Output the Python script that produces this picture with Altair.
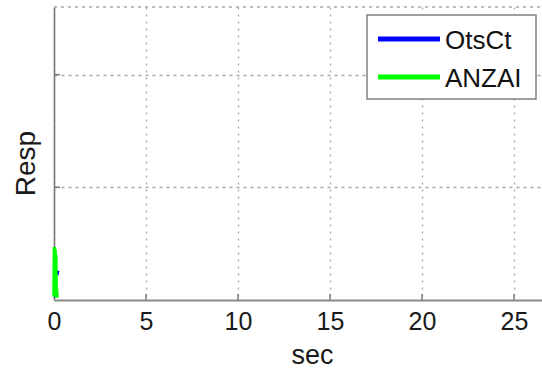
import altair as alt
import pandas as pd

# ---- data ----
series_names = ["OtsCt", "ANZAI"]
series_colors = ["#0000ff", "#00ff00"]

otsct_t = [0.0, 0.05, 0.12, 0.18, 0.23]
otsct_v = [0.02, 0.15, 0.27, 0.22, 0.26]

anzai_t = [0.0, 0.02, 0.04, 0.06, 0.08, 0.10, 0.12, 0.14, 0.16]
anzai_v = [0.03, 0.47, 0.04, 0.45, 0.06, 0.40, 0.05, 0.10, 0.02]

x_ticks = [0, 5, 10, 15, 20, 25]
y_ticks = [1, 2]
x_max = 26.52
y_max = 2.6

# ---- layout (pixels) ----
W, H = 488, 293
FONT = "Liberation Sans"
LEG_BOX = (313, 8, 482, 92)       # x0, y0, x1, y1 relative to plot area
LEG_SYM_X = (324, 386)
LEG_LABEL_X = 391
LEG_ROW_Y = [32, 70]

df_o = pd.DataFrame({"t": otsct_t, "v": otsct_v, "s": series_names[0]})
df_a = pd.DataFrame({"t": anzai_t, "v": anzai_v, "s": series_names[1]})

xs = alt.Scale(domain=[0, x_max], nice=False, zero=False)
ys = alt.Scale(domain=[0, y_max], nice=False, zero=False)
cs = alt.Scale(domain=series_names, range=series_colors)

x_axis = alt.Axis(
    values=x_ticks, title="sec", grid=True, gridColor="#a8a8a8",
    gridDash=[2, 5], gridWidth=1.3, ticks=False, domain=True,
    domainColor="#8a8a8a", domainWidth=2, labelFont=FONT, labelFontSize=25,
    labelColor="#1a1a1a", labelPadding=9, labelFlush=False,
    titleFont=FONT, titleFontSize=27, titleFontWeight="normal",
    titleColor="#1a1a1a", titleX=258, titleY=63, titleBaseline="alphabetic",
    titleAlign="center", titleAnchor="start",
)
y_axis = alt.Axis(
    values=y_ticks, title="Resp", grid=True, gridColor="#a8a8a8",
    gridDash=[3, 4], gridWidth=1.3, ticks=False, labels=False, domain=True,
    domainColor="#7a7a7a", domainWidth=1.6,
    titleFont=FONT, titleFontSize=28, titleFontWeight="normal",
    titleColor="#1a1a1a", titleAngle=270, titleX=-20, titleY=156,
    titleBaseline="alphabetic", titleAlign="center", titleAnchor="start",
)

line_o = alt.Chart(df_o).mark_line(strokeWidth=2.5, clip=True).encode(
    x=alt.X("t:Q", scale=xs, axis=x_axis),
    y=alt.Y("v:Q", scale=ys, axis=y_axis),
    color=alt.Color("s:N", scale=cs, legend=None),
)
line_a = alt.Chart(df_a).mark_line(strokeWidth=3.5, clip=False).encode(
    x=alt.X("t:Q", scale=xs),
    y=alt.Y("v:Q", scale=ys),
    color=alt.Color("s:N", scale=cs, legend=None),
)

# inward ticks (MATLAB style) and dotted top edge
xt_df = pd.DataFrame({"t": x_ticks[1:]})
yt_df = pd.DataFrame({"v": y_ticks})
xticks = alt.Chart(xt_df).mark_rule(color="#7a7a7a", strokeWidth=1.5).encode(
    x=alt.X("t:Q", scale=xs), y=alt.value(H), y2=alt.value(H - 6)
)
yticks = alt.Chart(yt_df).mark_rule(color="#7a7a7a", strokeWidth=1.5).encode(
    y=alt.Y("v:Q", scale=ys), x=alt.value(0), x2=alt.value(6)
)
one = pd.DataFrame({"a": [0]})
top_edge = alt.Chart(one).mark_rule(
    color="#a8a8a8", strokeDash=[3, 4], strokeWidth=1.3
).encode(x=alt.value(0), x2=alt.value(W), y=alt.value(0))

# legend box (MATLAB style)
leg_layers = [
    alt.Chart(one).mark_rect(fill="#ffffff", stroke="#808080", strokeWidth=1.5).encode(
        x=alt.value(LEG_BOX[0]), x2=alt.value(LEG_BOX[2]),
        y=alt.value(LEG_BOX[1]), y2=alt.value(LEG_BOX[3]),
    )
]
for name, col, ry in zip(series_names, series_colors, LEG_ROW_Y):
    d = pd.DataFrame({"s": [name]})
    leg_layers.append(
        alt.Chart(d).mark_rule(strokeWidth=5).encode(
            x=alt.value(LEG_SYM_X[0]), x2=alt.value(LEG_SYM_X[1]),
            y=alt.value(ry), color=alt.Color("s:N", scale=cs, legend=None),
        )
    )
    leg_layers.append(
        alt.Chart(d).mark_text(
            font=FONT, fontSize=26, align="left", baseline="middle", color="#111111"
        ).encode(x=alt.value(LEG_LABEL_X), y=alt.value(ry + 2), text="s:N")
    )

chart = alt.layer(top_edge, xticks, yticks, line_o, line_a, *leg_layers).properties(
    width=W, height=H,
    padding={"left": 54, "top": 7, "right": 0, "bottom": 69},
    autosize=alt.AutoSizeParams(type="none"),
    background="#ffffff",
).configure_view(stroke=None)

chart.save("out.html", embed_options={"renderer": "svg", "actions": False})
